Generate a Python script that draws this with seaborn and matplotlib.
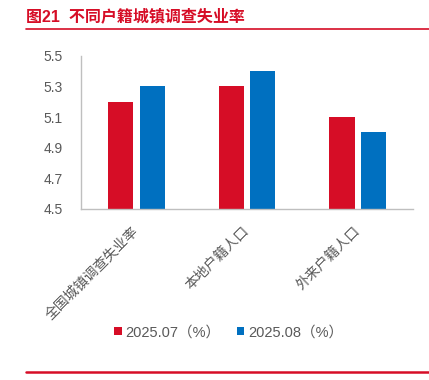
import pandas as pd
import numpy as np
import matplotlib.pyplot as plt
import seaborn as sns

categories = ['全国城镇调查失业率', '本地户籍人口', '外来户籍人口']
jul_2025 = [5.2, 5.3, 5.1]
aug_2025 = [5.3, 5.4, 5.0]
series_names = ['2025.07（%）', '2025.08（%）']
yticks = [4.5, 4.7, 4.9, 5.1, 5.3, 5.5]

df = pd.DataFrame({
    'cat': categories * 2,
    'val': jul_2025 + aug_2025,
    'series': [series_names[0]] * 3 + [series_names[1]] * 3,
})

sns.set_style('white')
plt.rcParams['font.family'] = ['Liberation Sans', 'Noto Sans CJK SC']

red = '#d60d26'
blue = '#0070c0'
grey_txt = '#595959'
grey_ax = '#bfbfbf'

fig = plt.figure(figsize=(4.29, 3.8), dpi=100)
ax = fig.add_axes([0.189, 0.45, 0.774, 0.403])

sns.barplot(data=df, x='cat', y='val', hue='series', palette=[red, blue],
            width=0.57, gap=0.2, ax=ax, legend=True, edgecolor='none', saturation=1)

ax.set_ylim(4.5, 5.5)
ax.set_xlim(-0.5, 2.5)
ax.set_yticks(yticks)
ax.set_yticklabels([f'{v:.1f}' for v in yticks])
ax.set_xlabel('')
ax.set_ylabel('')

# ticks on x axis sit between the categories
ax.set_xticks([-0.5, 0.5, 1.5, 2.5])
ax.set_xticklabels([])
ax.set_xticks([0, 1, 2], minor=True)
ax.set_xticklabels(categories, minor=True, rotation=45, ha='right', va='center',
                   rotation_mode='anchor', fontsize=10, color=grey_txt)
ax.tick_params(axis='x', which='minor', length=0, pad=14)
ax.tick_params(axis='x', which='major', length=4, width=1, color=grey_ax, direction='out')
ax.tick_params(axis='y', length=4, width=1, color=grey_ax, direction='out',
               labelsize=10, labelcolor=grey_txt, pad=9)

for s in ['top', 'right']:
    ax.spines[s].set_visible(False)
for s in ['left', 'bottom']:
    ax.spines[s].set_color(grey_ax)
    ax.spines[s].set_linewidth(1)

handles, labels = ax.get_legend_handles_labels()
ax.get_legend().remove()
fig.legend(handles, labels, loc='center', bbox_to_anchor=(0.533, 0.126), ncol=2,
           frameon=False, fontsize=10.5, labelcolor=grey_txt, handlelength=0.5,
           handleheight=0.5, handletextpad=0.25, columnspacing=1.15)

# title and red rules
fig.text(26 / 429, 1 - 16 / 380, '图21  不同户籍城镇调查失业率', color=red,
         fontsize=11.5, fontweight='bold', va='center', ha='left')
fig.add_artist(plt.Line2D([26 / 429, 1], [1 - 29 / 380] * 2, color=red, lw=1.2))
fig.add_artist(plt.Line2D([26 / 429, 1], [1 - 372 / 380] * 2, color=red, lw=1.8))

fig.savefig('out.png', dpi=100)
